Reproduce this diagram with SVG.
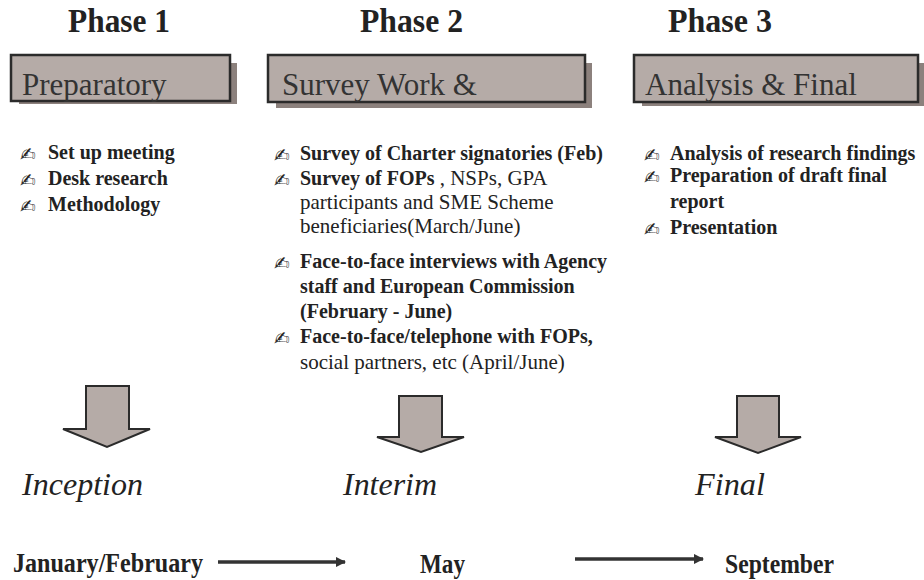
<svg xmlns="http://www.w3.org/2000/svg" width="924" height="580" viewBox="0 0 924 580">
<style>
.hd{font-family:"Liberation Serif","Times New Roman","DejaVu Serif",serif;font-weight:bold;font-size:34px;fill:#222}
.bx{fill:#b5aba7;stroke:#2b2b2b;stroke-width:2.5}
.sh{fill:#8c817d}
.bt{font-family:"Liberation Serif","Times New Roman","DejaVu Serif",serif;font-size:31px;fill:#333}
.li{font-family:"Liberation Serif","Times New Roman","DejaVu Serif",serif;font-size:20px;fill:#222}
.r{font-size:21px}
.b{font-weight:bold}
.bul{font-family:"DejaVu Sans",sans-serif;font-size:19px;fill:#222}
.it{font-family:"Liberation Serif","Times New Roman","DejaVu Serif",serif;font-style:italic;font-size:31px;fill:#222}
.dt{font-family:"Liberation Serif","Times New Roman","DejaVu Serif",serif;font-weight:bold;font-size:28px;fill:#222}
.blk{fill:#b5aba7;stroke:#2b2b2b;stroke-width:2}
.tl{stroke:#333;stroke-width:3.5;fill:none}
</style>
<defs>
<marker id="ah" viewBox="0 0 10 10" refX="9" refY="5" markerWidth="3" markerHeight="3" orient="auto" markerUnits="strokeWidth">
<path d="M0,0 L10,5 L0,10 Z" fill="#333"/>
</marker>
</defs>

<g id="phase1">
<text class="hd" x="68" y="32" textLength="102" lengthAdjust="spacingAndGlyphs">Phase 1</text>
<rect class="sh" x="19" y="63" width="218" height="41"/>
<rect class="bx" x="11" y="55" width="219" height="46"/>
<text class="bt" x="22" y="95">Preparatory</text>
<text class="bul" x="20" y="161">✍</text>
<text class="li b" x="48" y="159">Set up meeting</text>
<text class="bul" x="20" y="187">✍</text>
<text class="li b" x="48" y="185">Desk research</text>
<text class="bul" x="20" y="213">✍</text>
<text class="li b" x="48" y="211">Methodology</text>
</g>

<g id="phase2">
<text class="hd" x="360" y="32" textLength="103" lengthAdjust="spacingAndGlyphs">Phase 2</text>
<rect class="sh" x="276" y="63" width="316" height="45"/>
<rect class="bx" x="268" y="55" width="317" height="47"/>
<text class="bt" x="282" y="95">Survey Work &amp;</text>
<text class="bul" x="274" y="162">✍</text>
<text class="li b" x="300" y="160">Survey of Charter signatories  (Feb)</text>
<text class="bul" x="274" y="187">✍</text>
<text class="li" x="300" y="185"><tspan class="b">Survey of FOPs</tspan><tspan class="r"> , NSPs, GPA</tspan></text>
<text class="li r" x="300" y="209">participants and SME Scheme</text>
<text class="li r" x="300" y="233">beneficiaries(March/June)</text>
<text class="bul" x="274" y="270">✍</text>
<text class="li b" x="300" y="268">Face-to-face interviews with Agency</text>
<text class="li b" x="300" y="293">staff and European Commission</text>
<text class="li b" x="300" y="318">(February - June)</text>
<text class="bul" x="274" y="345">✍</text>
<text class="li b" x="300" y="343">Face-to-face/telephone with FOPs,</text>
<text class="li r" x="300" y="369">social partners, etc (April/June)</text>
</g>

<g id="phase3">
<text class="hd" x="668" y="32" textLength="104" lengthAdjust="spacingAndGlyphs">Phase 3</text>
<rect class="sh" x="642" y="63" width="284" height="43"/>
<rect class="bx" x="634" y="55" width="284" height="47"/>
<text class="bt" x="645" y="95">Analysis &amp; Final</text>
<text class="bul" x="644" y="162">✍</text>
<text class="li b" x="670" y="160">Analysis of research findings</text>
<text class="bul" x="644" y="184">✍</text>
<text class="li b" x="670" y="182">Preparation of draft final</text>
<text class="li b" x="670" y="208">report</text>
<text class="bul" x="644" y="236">✍</text>
<text class="li b" x="670" y="234">Presentation</text>
</g>

<g id="inception">
<text class="it" x="22" y="495" textLength="121" lengthAdjust="spacingAndGlyphs">Inception</text>
<text class="dt" x="13" y="572" textLength="190" lengthAdjust="spacingAndGlyphs">January/February</text>
</g>
<g id="interim">
<text class="it" x="343" y="495" textLength="94" lengthAdjust="spacingAndGlyphs">Interim</text>
<text class="dt" x="420" y="573" font-size="25" textLength="45" lengthAdjust="spacingAndGlyphs">May</text>
</g>
<g id="final">
<text class="it" x="695" y="495" textLength="70" lengthAdjust="spacingAndGlyphs">Final</text>
<text class="dt" x="725" y="573" font-size="25" textLength="109" lengthAdjust="spacingAndGlyphs">September</text>
</g>

<g id="connectors">
<path class="blk" d="M86,386 H129 V429 H150 L107,447 L63,429 H86 Z"/>
<path class="blk" d="M399,396 H442 V437 H464 L421,452 L377,437 H399 Z"/>
<path class="blk" d="M737,396 H779 V437 H801 L758,453 L715,437 H737 Z"/>
<line class="tl" x1="218" y1="562" x2="345" y2="562" marker-end="url(#ah)"/>
<line class="tl" x1="575" y1="559" x2="703" y2="559" marker-end="url(#ah)"/>
</g>
</svg>
